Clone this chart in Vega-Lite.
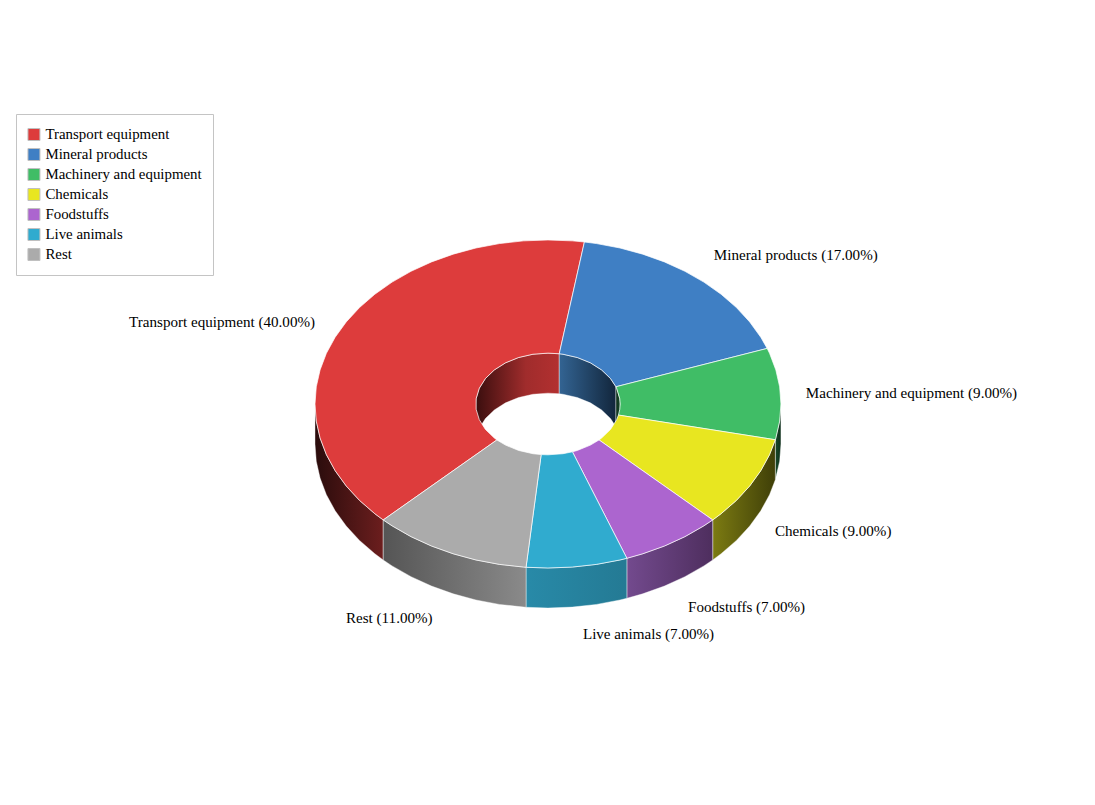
{
  "$schema": "https://vega.github.io/schema/vega-lite/v6.json",
  "width": 1095,
  "height": 805,
  "autosize": "none",
  "padding": 0,
  "background": "white",
  "config": {"view": {"stroke": null}, "area": {"stroke": "#ffffff", "strokeWidth": 0.8, "strokeOpacity": 0.5}},
  "datasets": {
    "tops": [
      {"slice":"Transport equipment","x":-0.7071,"y":-0.7071},{"slice":"Transport equipment","x":-0.7431,"y":-0.6691},{"slice":"Transport equipment","x":-0.809,"y":-0.5878},{"slice":"Transport equipment","x":-0.866,"y":-0.5},{"slice":"Transport equipment","x":-0.9135,"y":-0.4067},{"slice":"Transport equipment","x":-0.9511,"y":-0.309},{"slice":"Transport equipment","x":-0.9781,"y":-0.2079},{"slice":"Transport equipment","x":-0.9945,"y":-0.1045},{"slice":"Transport equipment","x":-1,"y":0},{"slice":"Transport equipment","x":-0.9945,"y":0.1045},{"slice":"Transport equipment","x":-0.9781,"y":0.2079},{"slice":"Transport equipment","x":-0.9511,"y":0.309},{"slice":"Transport equipment","x":-0.9135,"y":0.4067},{"slice":"Transport equipment","x":-0.866,"y":0.5},{"slice":"Transport equipment","x":-0.809,"y":0.5878},{"slice":"Transport equipment","x":-0.7431,"y":0.6691},{"slice":"Transport equipment","x":-0.6691,"y":0.7431},{"slice":"Transport equipment","x":-0.5878,"y":0.809},{"slice":"Transport equipment","x":-0.5,"y":0.866},{"slice":"Transport equipment","x":-0.4067,"y":0.9135},{"slice":"Transport equipment","x":-0.309,"y":0.9511},{"slice":"Transport equipment","x":-0.2079,"y":0.9781},{"slice":"Transport equipment","x":-0.1045,"y":0.9945},{"slice":"Transport equipment","x":0,"y":1},{"slice":"Transport equipment","x":0.1045,"y":0.9945},{"slice":"Transport equipment","x":0.1564,"y":0.9877},
      {"slice":"Transport equipment","x":0.0485,"y":0.3062},{"slice":"Transport equipment","x":0,"y":0.31},{"slice":"Transport equipment","x":-0.0645,"y":0.3032},{"slice":"Transport equipment","x":-0.1261,"y":0.2832},{"slice":"Transport equipment","x":-0.1822,"y":0.2508},{"slice":"Transport equipment","x":-0.2304,"y":0.2074},{"slice":"Transport equipment","x":-0.2685,"y":0.155},{"slice":"Transport equipment","x":-0.2948,"y":0.0958},{"slice":"Transport equipment","x":-0.3083,"y":0.0324},{"slice":"Transport equipment","x":-0.3083,"y":-0.0324},{"slice":"Transport equipment","x":-0.2948,"y":-0.0958},{"slice":"Transport equipment","x":-0.2685,"y":-0.155},{"slice":"Transport equipment","x":-0.2304,"y":-0.2074},{"slice":"Transport equipment","x":-0.2192,"y":-0.2192},{"slice":"Transport equipment","x":-0.7071,"y":-0.7071},

      {"slice":"Mineral products","x":0.1564,"y":0.9877},{"slice":"Mineral products","x":0.2079,"y":0.9781},{"slice":"Mineral products","x":0.309,"y":0.9511},{"slice":"Mineral products","x":0.4067,"y":0.9135},{"slice":"Mineral products","x":0.5,"y":0.866},{"slice":"Mineral products","x":0.5878,"y":0.809},{"slice":"Mineral products","x":0.6691,"y":0.7431},{"slice":"Mineral products","x":0.7431,"y":0.6691},{"slice":"Mineral products","x":0.809,"y":0.5878},{"slice":"Mineral products","x":0.866,"y":0.5},{"slice":"Mineral products","x":0.9135,"y":0.4067},{"slice":"Mineral products","x":0.9409,"y":0.3387},
      {"slice":"Mineral products","x":0.2917,"y":0.105},{"slice":"Mineral products","x":0.2685,"y":0.155},{"slice":"Mineral products","x":0.2304,"y":0.2074},{"slice":"Mineral products","x":0.1822,"y":0.2508},{"slice":"Mineral products","x":0.1261,"y":0.2832},{"slice":"Mineral products","x":0.0645,"y":0.3032},{"slice":"Mineral products","x":0.0485,"y":0.3062},{"slice":"Mineral products","x":0.1564,"y":0.9877},

      {"slice":"Machinery and equipment","x":0.9409,"y":0.3387},{"slice":"Machinery and equipment","x":0.9511,"y":0.309},{"slice":"Machinery and equipment","x":0.9781,"y":0.2079},{"slice":"Machinery and equipment","x":0.9945,"y":0.1045},{"slice":"Machinery and equipment","x":1,"y":0},{"slice":"Machinery and equipment","x":0.9945,"y":-0.1045},{"slice":"Machinery and equipment","x":0.9781,"y":-0.2079},{"slice":"Machinery and equipment","x":0.9759,"y":-0.2181},
      {"slice":"Machinery and equipment","x":0.3025,"y":-0.0676},{"slice":"Machinery and equipment","x":0.3083,"y":-0.0324},{"slice":"Machinery and equipment","x":0.31,"y":0},{"slice":"Machinery and equipment","x":0.3083,"y":0.0324},{"slice":"Machinery and equipment","x":0.2948,"y":0.0958},{"slice":"Machinery and equipment","x":0.2917,"y":0.105},{"slice":"Machinery and equipment","x":0.9409,"y":0.3387},

      {"slice":"Chemicals","x":0.9759,"y":-0.2181},{"slice":"Chemicals","x":0.9511,"y":-0.309},{"slice":"Chemicals","x":0.9135,"y":-0.4067},{"slice":"Chemicals","x":0.866,"y":-0.5},{"slice":"Chemicals","x":0.809,"y":-0.5878},{"slice":"Chemicals","x":0.7431,"y":-0.6691},{"slice":"Chemicals","x":0.7071,"y":-0.7071},
      {"slice":"Chemicals","x":0.2192,"y":-0.2192},{"slice":"Chemicals","x":0.2304,"y":-0.2074},{"slice":"Chemicals","x":0.2685,"y":-0.155},{"slice":"Chemicals","x":0.2948,"y":-0.0958},{"slice":"Chemicals","x":0.3025,"y":-0.0676},{"slice":"Chemicals","x":0.9759,"y":-0.2181},

      {"slice":"Foodstuffs","x":0.7071,"y":-0.7071},{"slice":"Foodstuffs","x":0.6691,"y":-0.7431},{"slice":"Foodstuffs","x":0.5878,"y":-0.809},{"slice":"Foodstuffs","x":0.5,"y":-0.866},{"slice":"Foodstuffs","x":0.4067,"y":-0.9135},{"slice":"Foodstuffs","x":0.3387,"y":-0.9409},
      {"slice":"Foodstuffs","x":0.105,"y":-0.2917},{"slice":"Foodstuffs","x":0.1261,"y":-0.2832},{"slice":"Foodstuffs","x":0.1822,"y":-0.2508},{"slice":"Foodstuffs","x":0.2192,"y":-0.2192},{"slice":"Foodstuffs","x":0.7071,"y":-0.7071},

      {"slice":"Live animals","x":0.3387,"y":-0.9409},{"slice":"Live animals","x":0.309,"y":-0.9511},{"slice":"Live animals","x":0.2079,"y":-0.9781},{"slice":"Live animals","x":0.1045,"y":-0.9945},{"slice":"Live animals","x":0,"y":-1},{"slice":"Live animals","x":-0.0941,"y":-0.9956},
      {"slice":"Live animals","x":-0.0292,"y":-0.3086},{"slice":"Live animals","x":0,"y":-0.31},{"slice":"Live animals","x":0.0645,"y":-0.3032},{"slice":"Live animals","x":0.105,"y":-0.2917},{"slice":"Live animals","x":0.3387,"y":-0.9409},

      {"slice":"Rest","x":-0.0941,"y":-0.9956},{"slice":"Rest","x":-0.1045,"y":-0.9945},{"slice":"Rest","x":-0.2079,"y":-0.9781},{"slice":"Rest","x":-0.309,"y":-0.9511},{"slice":"Rest","x":-0.4067,"y":-0.9135},{"slice":"Rest","x":-0.5,"y":-0.866},{"slice":"Rest","x":-0.5878,"y":-0.809},{"slice":"Rest","x":-0.6691,"y":-0.7431},{"slice":"Rest","x":-0.7071,"y":-0.7071},
      {"slice":"Rest","x":-0.2192,"y":-0.2192},{"slice":"Rest","x":-0.1822,"y":-0.2508},{"slice":"Rest","x":-0.1261,"y":-0.2832},{"slice":"Rest","x":-0.0645,"y":-0.3032},{"slice":"Rest","x":-0.0292,"y":-0.3086},{"slice":"Rest","x":-0.0941,"y":-0.9956}
    ],
    "outerWalls": [
      {"slice":"Machinery and equipment","x":1,"y":0,"y2":-0.244},{"slice":"Machinery and equipment","x":0.9945,"y":-0.1045,"y2":-0.3485},{"slice":"Machinery and equipment","x":0.9759,"y":-0.2181,"y2":-0.4621},
      {"slice":"Chemicals","x":0.9759,"y":-0.2181,"y2":-0.4621},{"slice":"Chemicals","x":0.9511,"y":-0.309,"y2":-0.553},{"slice":"Chemicals","x":0.9135,"y":-0.4067,"y2":-0.6507},{"slice":"Chemicals","x":0.866,"y":-0.5,"y2":-0.744},{"slice":"Chemicals","x":0.809,"y":-0.5878,"y2":-0.8318},{"slice":"Chemicals","x":0.7431,"y":-0.6691,"y2":-0.9131},{"slice":"Chemicals","x":0.7071,"y":-0.7071,"y2":-0.9511},
      {"slice":"Foodstuffs","x":0.7071,"y":-0.7071,"y2":-0.9511},{"slice":"Foodstuffs","x":0.6691,"y":-0.7431,"y2":-0.9871},{"slice":"Foodstuffs","x":0.5878,"y":-0.809,"y2":-1.053},{"slice":"Foodstuffs","x":0.5,"y":-0.866,"y2":-1.11},{"slice":"Foodstuffs","x":0.4067,"y":-0.9135,"y2":-1.1575},{"slice":"Foodstuffs","x":0.3387,"y":-0.9409,"y2":-1.1849},
      {"slice":"Live animals","x":0.3387,"y":-0.9409,"y2":-1.1849},{"slice":"Live animals","x":0.309,"y":-0.9511,"y2":-1.1951},{"slice":"Live animals","x":0.2079,"y":-0.9781,"y2":-1.2221},{"slice":"Live animals","x":0.1045,"y":-0.9945,"y2":-1.2385},{"slice":"Live animals","x":0,"y":-1,"y2":-1.244},{"slice":"Live animals","x":-0.0941,"y":-0.9956,"y2":-1.2396},
      {"slice":"Rest","x":-0.0941,"y":-0.9956,"y2":-1.2396},{"slice":"Rest","x":-0.2079,"y":-0.9781,"y2":-1.2221},{"slice":"Rest","x":-0.309,"y":-0.9511,"y2":-1.1951},{"slice":"Rest","x":-0.4067,"y":-0.9135,"y2":-1.1575},{"slice":"Rest","x":-0.5,"y":-0.866,"y2":-1.11},{"slice":"Rest","x":-0.5878,"y":-0.809,"y2":-1.053},{"slice":"Rest","x":-0.6691,"y":-0.7431,"y2":-0.9871},{"slice":"Rest","x":-0.7071,"y":-0.7071,"y2":-0.9511},
      {"slice":"Transport equipment","x":-0.7071,"y":-0.7071,"y2":-0.9511},{"slice":"Transport equipment","x":-0.7431,"y":-0.6691,"y2":-0.9131},{"slice":"Transport equipment","x":-0.809,"y":-0.5878,"y2":-0.8318},{"slice":"Transport equipment","x":-0.866,"y":-0.5,"y2":-0.744},{"slice":"Transport equipment","x":-0.9135,"y":-0.4067,"y2":-0.6507},{"slice":"Transport equipment","x":-0.9511,"y":-0.309,"y2":-0.553},{"slice":"Transport equipment","x":-0.9781,"y":-0.2079,"y2":-0.4519},{"slice":"Transport equipment","x":-0.9945,"y":-0.1045,"y2":-0.3485},{"slice":"Transport equipment","x":-1,"y":0,"y2":-0.244}
    ],
    "innerWalls": [
      {"slice":"Transport equipment","x":-0.31,"y":0,"y2":-0.244},{"slice":"Transport equipment","x":-0.3083,"y":0.0324,"y2":-0.2116},{"slice":"Transport equipment","x":-0.2948,"y":0.0958,"y2":-0.1482},{"slice":"Transport equipment","x":-0.2685,"y":0.155,"y2":-0.089},{"slice":"Transport equipment","x":-0.2304,"y":0.2074,"y2":-0.0366},{"slice":"Transport equipment","x":-0.1822,"y":0.2508,"y2":0.0068},{"slice":"Transport equipment","x":-0.1261,"y":0.2832,"y2":0.0392},{"slice":"Transport equipment","x":-0.0645,"y":0.3032,"y2":0.0592},{"slice":"Transport equipment","x":0,"y":0.31,"y2":0.066},{"slice":"Transport equipment","x":0.0485,"y":0.3062,"y2":0.0622},
      {"slice":"Mineral products","x":0.0485,"y":0.3062,"y2":0.0622},{"slice":"Mineral products","x":0.0645,"y":0.3032,"y2":0.0592},{"slice":"Mineral products","x":0.1261,"y":0.2832,"y2":0.0392},{"slice":"Mineral products","x":0.1822,"y":0.2508,"y2":0.0068},{"slice":"Mineral products","x":0.2304,"y":0.2074,"y2":-0.0366},{"slice":"Mineral products","x":0.2685,"y":0.155,"y2":-0.089},{"slice":"Mineral products","x":0.2917,"y":0.105,"y2":-0.139},
      {"slice":"Machinery and equipment","x":0.2917,"y":0.105,"y2":-0.139},{"slice":"Machinery and equipment","x":0.2948,"y":0.0958,"y2":-0.1482},{"slice":"Machinery and equipment","x":0.3083,"y":0.0324,"y2":-0.2116},{"slice":"Machinery and equipment","x":0.31,"y":0,"y2":-0.244}
    ],
    "labels": [
      {"label":"Transport equipment (40.00%)","x":-1.798,"y":0.5},
      {"label":"Mineral products (17.00%)","x":0.712,"y":0.909},
      {"label":"Machinery and equipment (9.00%)","x":1.107,"y":0.067},
      {"label":"Chemicals (9.00%)","x":0.974,"y":-0.774},
      {"label":"Foodstuffs (7.00%)","x":0.601,"y":-1.238},
      {"label":"Live animals (7.00%)","x":0.15,"y":-1.402},
      {"label":"Rest (11.00%)","x":-0.867,"y":-1.305}
    ]
  },
  "encoding": {
    "x": {"field": "x", "type": "quantitative", "axis": null, "scale": {"domain": [-2.352, 2.348], "nice": false, "zero": false}},
    "y": {"field": "y", "type": "quantitative", "axis": null, "scale": {"domain": [-2.445, 2.463], "nice": false, "zero": false}}
  },
  "layer": [
    {
      "data": {"name": "outerWalls"},
      "transform": [{"filter": {"field": "slice", "equal": "Transport equipment"}}],
      "mark": {"type": "area", "fill": {"gradient": "linear", "x1": 0, "x2": 1, "y1": 0, "y2": 0, "stops": [{"offset": 0, "color": "#2a0c0c"}, {"offset": 1, "color": "#6c1e1e"}]}},
      "encoding": {"y2": {"field": "y2"}}
    },
    {
      "data": {"name": "outerWalls"},
      "transform": [{"filter": {"field": "slice", "equal": "Machinery and equipment"}}],
      "mark": {"type": "area", "fill": {"gradient": "linear", "x1": 0, "x2": 1, "y1": 0, "y2": 0, "stops": [{"offset": 0, "color": "#174a2a"}, {"offset": 1, "color": "#0e2e1a"}]}},
      "encoding": {"y2": {"field": "y2"}}
    },
    {
      "data": {"name": "outerWalls"},
      "transform": [{"filter": {"field": "slice", "equal": "Chemicals"}}],
      "mark": {"type": "area", "fill": {"gradient": "linear", "x1": 0, "x2": 1, "y1": 0, "y2": 0, "stops": [{"offset": 0, "color": "#7c7b12"}, {"offset": 1, "color": "#3f3f08"}]}},
      "encoding": {"y2": {"field": "y2"}}
    },
    {
      "data": {"name": "outerWalls"},
      "transform": [{"filter": {"field": "slice", "equal": "Foodstuffs"}}],
      "mark": {"type": "area", "fill": {"gradient": "linear", "x1": 0, "x2": 1, "y1": 0, "y2": 0, "stops": [{"offset": 0, "color": "#734a8e"}, {"offset": 1, "color": "#4e2e5e"}]}},
      "encoding": {"y2": {"field": "y2"}}
    },
    {
      "data": {"name": "outerWalls"},
      "transform": [{"filter": {"field": "slice", "equal": "Live animals"}}],
      "mark": {"type": "area", "fill": {"gradient": "linear", "x1": 0, "x2": 1, "y1": 0, "y2": 0, "stops": [{"offset": 0, "color": "#288aa8"}, {"offset": 1, "color": "#247a94"}]}},
      "encoding": {"y2": {"field": "y2"}}
    },
    {
      "data": {"name": "outerWalls"},
      "transform": [{"filter": {"field": "slice", "equal": "Rest"}}],
      "mark": {"type": "area", "fill": {"gradient": "linear", "x1": 0, "x2": 1, "y1": 0, "y2": 0, "stops": [{"offset": 0, "color": "#555555"}, {"offset": 1, "color": "#8a8a8a"}]}},
      "encoding": {"y2": {"field": "y2"}}
    },
    {
      "data": {"name": "innerWalls"},
      "transform": [{"filter": {"field": "slice", "equal": "Transport equipment"}}],
      "mark": {"type": "area", "fill": {"gradient": "linear", "x1": 0, "x2": 1, "y1": 0, "y2": 0, "stops": [{"offset": 0, "color": "#3a0e0e"}, {"offset": 0.6, "color": "#a02c2c"}, {"offset": 1, "color": "#b33030"}]}},
      "encoding": {"y2": {"field": "y2"}}
    },
    {
      "data": {"name": "innerWalls"},
      "transform": [{"filter": {"field": "slice", "equal": "Mineral products"}}],
      "mark": {"type": "area", "fill": {"gradient": "linear", "x1": 0, "x2": 1, "y1": 0, "y2": 0, "stops": [{"offset": 0, "color": "#336493"}, {"offset": 1, "color": "#12263c"}]}},
      "encoding": {"y2": {"field": "y2"}}
    },
    {
      "data": {"name": "innerWalls"},
      "transform": [{"filter": {"field": "slice", "equal": "Machinery and equipment"}}],
      "mark": {"type": "area", "fill": {"gradient": "linear", "x1": 0, "x2": 1, "y1": 0, "y2": 0, "stops": [{"offset": 0, "color": "#0e2e1a"}, {"offset": 1, "color": "#174a2a"}]}},
      "encoding": {"y2": {"field": "y2"}}
    },
    {
      "data": {"name": "tops"},
      "mark": {"type": "line", "stroke": "#ffffff", "strokeWidth": 1, "strokeOpacity": 0.7},
      "encoding": {
        "order": {"value": null},
        "fill": {
          "field": "slice",
          "type": "nominal",
          "scale": {
            "domain": ["Transport equipment", "Mineral products", "Machinery and equipment", "Chemicals", "Foodstuffs", "Live animals", "Rest"],
            "range": ["#dd3c3c", "#3f7fc4", "#40bd66", "#e8e620", "#ac65cf", "#30abcf", "#ababab"]
          },
          "legend": {
            "title": null,
            "orient": "none",
            "legendX": 16,
            "legendY": 114,
            "padding": 10.5,
            "strokeColor": "#c4c4c4",
            "fillColor": "#ffffff",
            "symbolType": "square",
            "symbolSize": 144,
            "symbolStrokeColor": "#c0c0c0",
            "symbolStrokeWidth": 1,
            "symbolOpacity": 1,
            "labelFont": "Liberation Serif",
            "labelFontSize": 14.9,
            "labelColor": "#000000",
            "labelOffset": 4,
            "labelLimit": 400,
            "clipHeight": 20,
            "rowPadding": 0
          }
        }
      }
    },
    {
      "data": {"name": "labels"},
      "mark": {"type": "text", "align": "left", "baseline": "middle", "font": "Liberation Serif", "fontSize": 15.1, "color": "#000000"},
      "encoding": {
        "text": {"field": "label", "type": "nominal"}
      }
    }
  ]
}
